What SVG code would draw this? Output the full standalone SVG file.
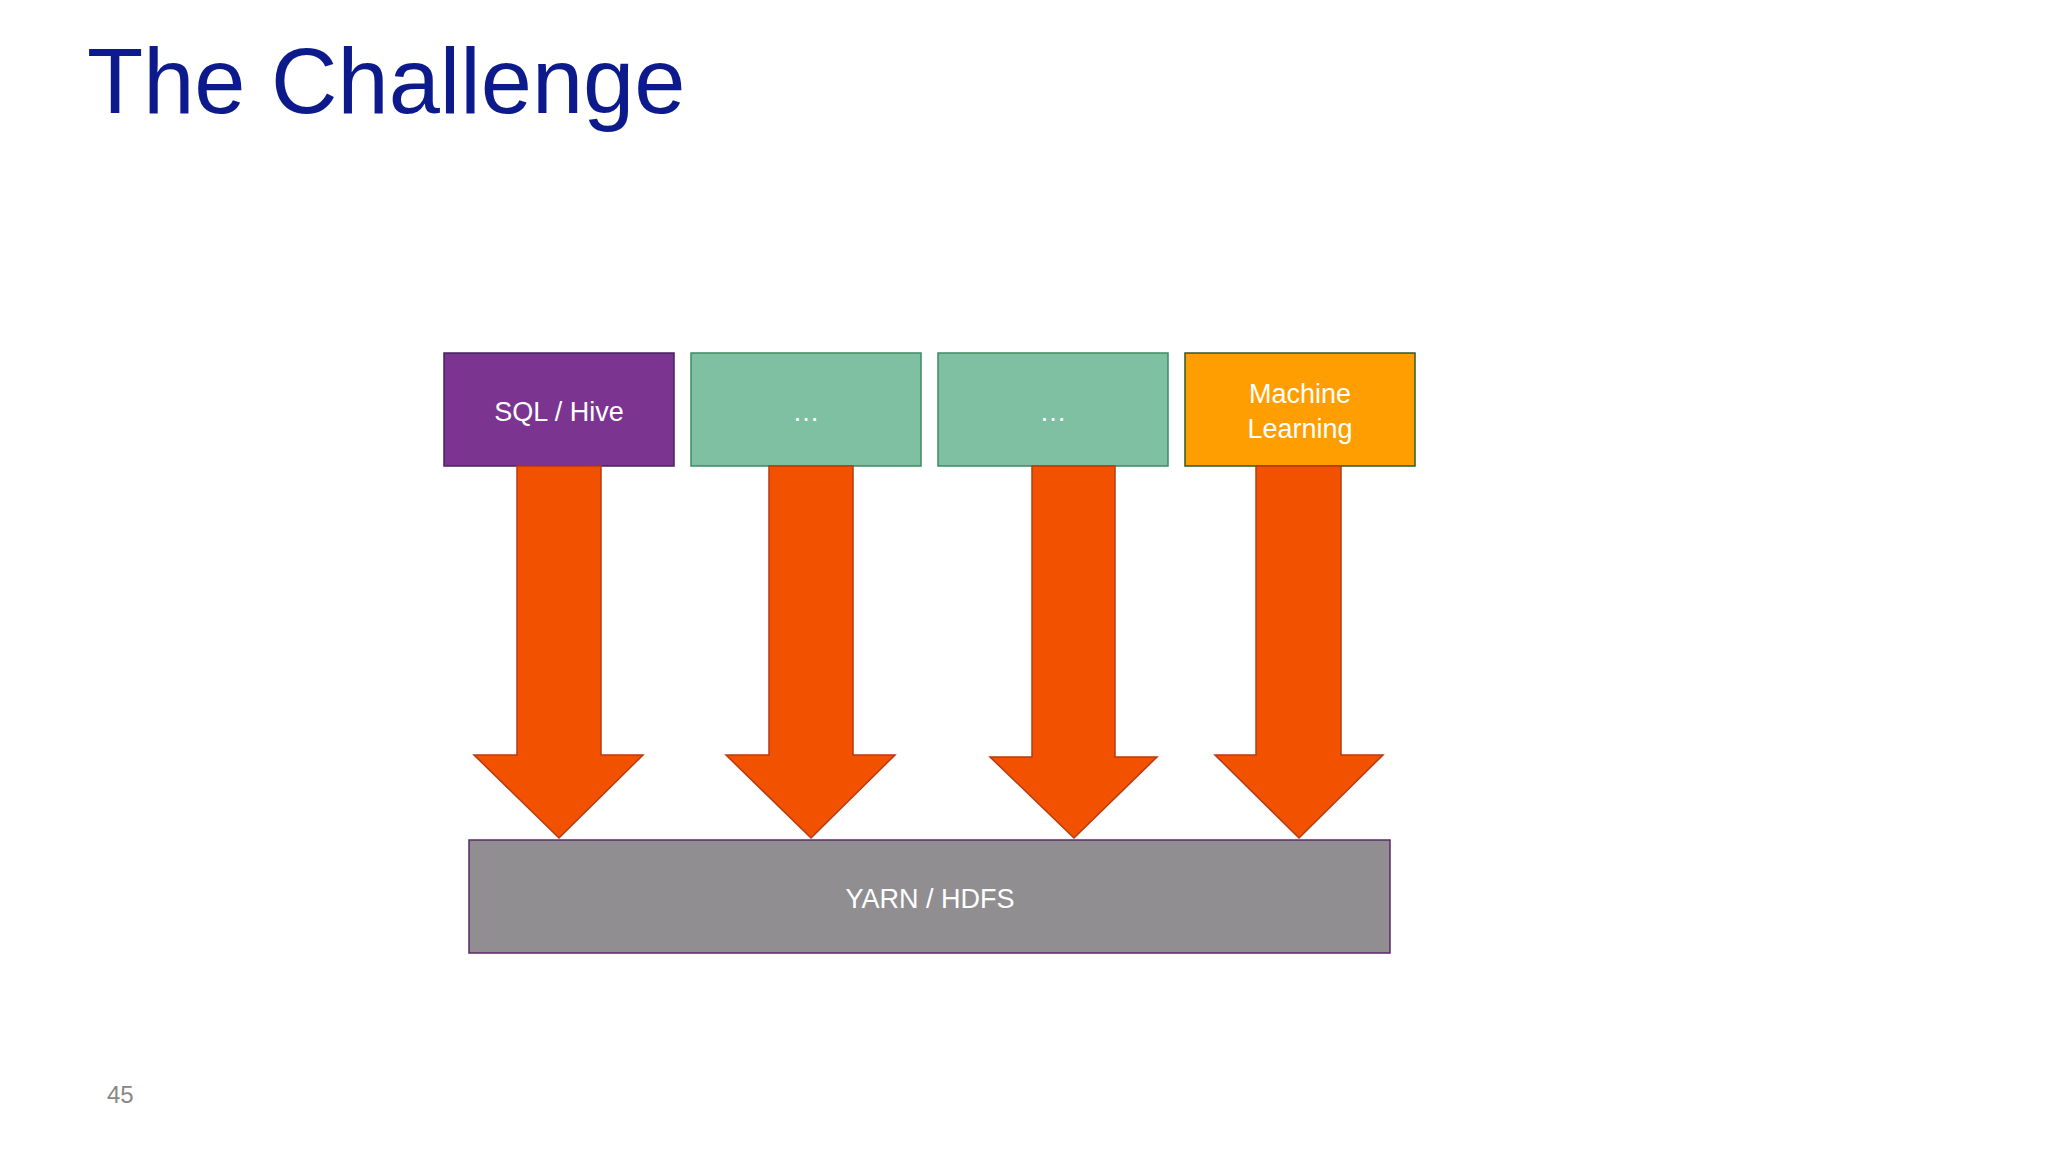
<svg xmlns="http://www.w3.org/2000/svg" width="2048" height="1152" viewBox="0 0 2048 1152">
<style>
text{font-family:"Liberation Sans",Arial,sans-serif}
.lbl{fill:#fff;font-size:27px;text-anchor:middle}
.arr{fill:#F25200;stroke:#B83A10;stroke-width:1.5}
</style>
<rect width="2048" height="1152" fill="#fff"/>
<text x="87" y="113" font-size="92" fill="#0D1A8C">The Challenge</text>
<g id="sql"><rect x="444" y="353" width="230" height="113" fill="#7B3590" stroke="#4A2060" stroke-width="1.5"/><text class="lbl" x="559" y="421">SQL / Hive</text></g>
<g id="dots1"><rect x="691" y="353" width="230" height="113" fill="#80C0A2" stroke="#3E8A64" stroke-width="1.5"/><text class="lbl" x="806" y="421">…</text></g>
<g id="dots2"><rect x="938" y="353" width="230" height="113" fill="#80C0A2" stroke="#3E8A64" stroke-width="1.5"/><text class="lbl" x="1053" y="421">…</text></g>
<g id="ml"><rect x="1185" y="353" width="230" height="113" fill="#FF9E00" stroke="#2F5A20" stroke-width="1.5"/><text class="lbl" x="1300" y="403">Machine</text><text class="lbl" x="1300" y="438">Learning</text></g>
<g id="connectors">
<polygon class="arr" points="517,466 601,466 601,755 643,755 559,838 474,755 517,755"/>
<polygon class="arr" points="769,466 853,466 853,755 895,755 811,838 726,755 769,755"/>
<polygon class="arr" points="1032,466 1115,466 1115,757 1157,757 1074,838 990,757 1032,757"/>
<polygon class="arr" points="1256,466 1341,466 1341,755 1383,755 1299,838 1215,755 1256,755"/>
</g>
<g id="yarn"><rect x="469" y="840" width="921" height="113" fill="#918E92" stroke="#5A2A6A" stroke-width="1.5"/><text class="lbl" x="930" y="908">YARN / HDFS</text></g>
<text x="107" y="1103" font-size="24" fill="#888">45</text>
</svg>
